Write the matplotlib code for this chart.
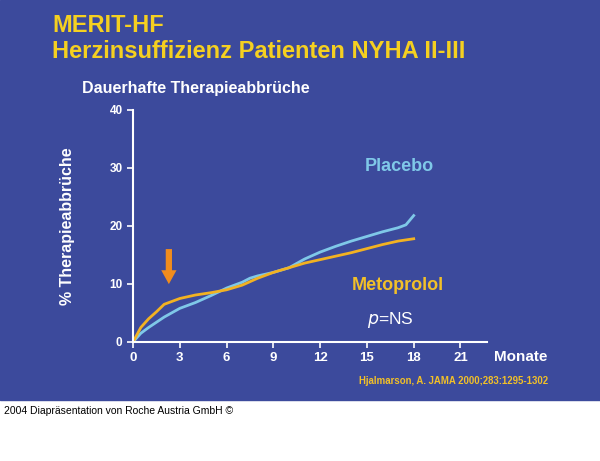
import matplotlib
matplotlib.use("Agg")
import matplotlib.pyplot as plt
from matplotlib.patches import Rectangle

plt.rcParams['font.family'] = ['Liberation Sans', 'DejaVu Sans']

months_p = [0, 0.5, 1, 2, 3, 4, 5, 6, 7, 7.5, 8, 9, 10, 11, 12, 13, 14, 15, 16, 17, 17.5, 18]
placebo = [0, 1.5, 2.5, 4.3, 5.8, 6.8, 8, 9.3, 10.3, 11, 11.4, 12, 12.8, 14.3, 15.5, 16.5, 17.4, 18.2, 19, 19.7, 20.2, 21.8]
months_m = [0, 0.5, 1, 1.5, 2, 3, 4, 5, 6, 7, 8, 9, 10, 11, 12, 13, 14, 15, 16, 17, 18]
metoprolol = [0, 2.5, 4, 5.2, 6.5, 7.5, 8.1, 8.5, 9, 9.8, 11, 12, 12.8, 13.6, 14.2, 14.8, 15.4, 16.1, 16.8, 17.4, 17.8]
xticks = [0, 3, 6, 9, 12, 15, 18, 21]
yticks = [0, 10, 20, 30, 40]

BG = "#3c4a9c"
fig = plt.figure(figsize=(6, 4.61), dpi=100)
fig.patches.append(Rectangle((0, 61/461), 1, 400/461, transform=fig.transFigure, color=BG, zorder=-10))

ax = fig.add_axes([133/600, 119/461, 354/600, 232/461])
ax.set_facecolor("none")
ax.plot(months_p, placebo, color="#7fc8e8", lw=2)
ax.plot(months_m, metoprolol, color="#f2b222", lw=2)
ax.set_xlim(0, 22.7)
ax.set_ylim(0, 40)
ax.set_xticks(xticks)
ax.set_yticks(yticks)
for s in ["top", "right"]:
    ax.spines[s].set_visible(False)
for s in ["left", "bottom"]:
    ax.spines[s].set_color("white")
    ax.spines[s].set_linewidth(1.5)
ax.tick_params(colors="white", labelcolor="white", length=4, width=1.2)
for lab in ax.get_xticklabels():
    lab.set_fontweight("bold"); lab.set_fontsize(9.5)
for lab in ax.get_yticklabels():
    lab.set_fontweight("bold"); lab.set_fontsize(8.5)
ax.set_ylabel("% Therapieabbrüche", color="white", fontweight="bold", fontsize=11.5, labelpad=25)
ax.annotate("", xy=(2.3, 9.5), xytext=(2.3, 16.5),
            arrowprops=dict(arrowstyle="simple,head_width=1.1,head_length=1,tail_width=0.45", color="#f08c1e", lw=0))
ax.text(17.1, 30.3, "Placebo", color="#7fc8e8", fontsize=13, fontweight="bold", ha="center", va="center")
ax.text(17.0, 9.8, "Metoprolol", color="#f2c028", fontsize=13, fontweight="bold", ha="center", va="center")
ax.text(16.5, 3.8, "$\\it{p}$=NS", color="white", fontsize=12.5, ha="center", va="center")

fig.text(52/600, 1-25/461, "MERIT-HF", color="#f5d020", fontsize=17, fontweight="bold", va="center")
fig.text(52/600, 1-51/461, "Herzinsuffizienz Patienten NYHA II-III", color="#f5d020", fontsize=17, fontweight="bold", va="center")
fig.text(82/600, 1-88/461, "Dauerhafte Therapieabbrüche", color="white", fontsize=11.5, fontweight="bold", va="center")
fig.text(494/600, 1-357/461, "Monate", color="white", fontsize=11, fontweight="bold", va="center")
fig.text(548/600, 1-381/461, "Hjalmarson, A. JAMA 2000;283:1295-1302", color="#f2c028", fontsize=6.9, fontweight="bold", va="center", ha="right")
fig.text(4/600, 1-411/461, "2004 Diapräsentation von Roche Austria GmbH ©", color="black", fontsize=7.5, va="center")

fig.savefig("out.png", dpi=100)
